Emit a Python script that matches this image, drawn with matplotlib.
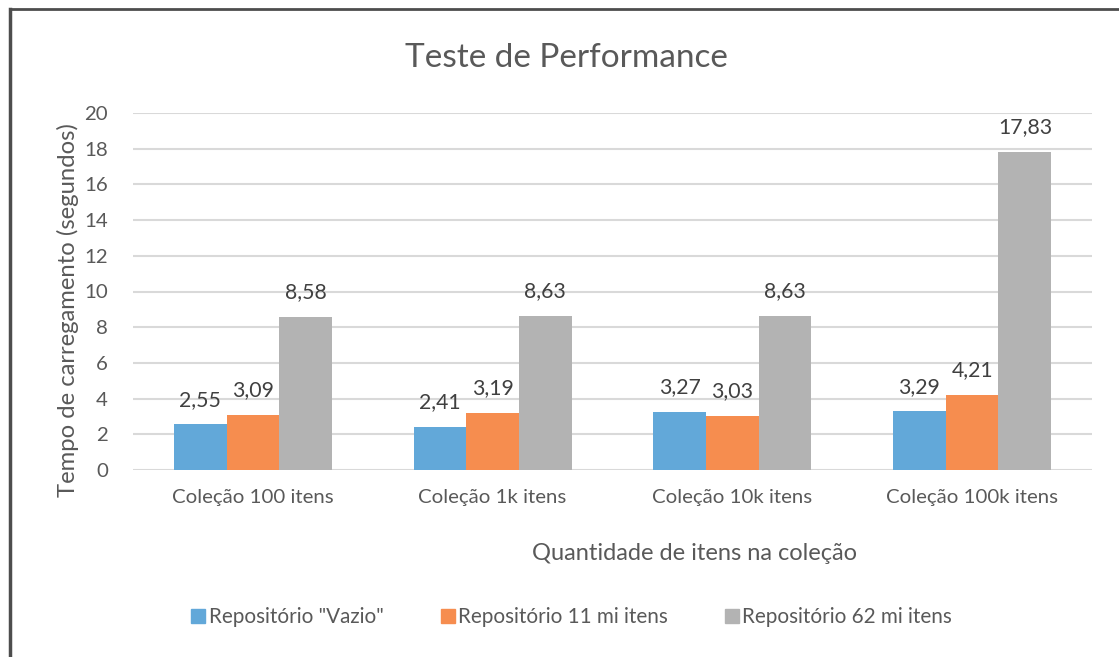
import matplotlib
matplotlib.use("Agg")
import matplotlib.pyplot as plt
import numpy as np
from matplotlib.lines import Line2D

# data
categorias = ["Coleção 100 itens", "Coleção 1k itens", "Coleção 10k itens", "Coleção 100k itens"]
series = ['Repositório "Vazio"', "Repositório 11 mi itens", "Repositório 62 mi itens"]
vazio = [2.55, 2.41, 3.27, 3.29]
mi11 = [3.09, 3.19, 3.03, 4.21]
mi62 = [8.58, 8.63, 8.63, 17.83]
yticks = [0, 2, 4, 6, 8, 10, 12, 14, 16, 18, 20]

cores = ["#62A8D9", "#F68D4F", "#B3B3B3"]
texto = "#595959"

plt.rcParams["font.family"] = ["Lato", "DejaVu Sans"]

W, H = 1119, 657
fig = plt.figure(figsize=(W / 100, H / 100), dpi=100)

# plot area in pixels
x0, x1, ytop, ybot = 133, 1092, 113, 470
ax = fig.add_axes([x0 / W, 1 - ybot / H, (x1 - x0) / W, (ybot - ytop) / H])

x = np.arange(len(categorias))
w = 0.22
for i, vals in enumerate([vazio, mi11, mi62]):
    pos = x + (i - 1) * w
    ax.bar(pos, vals, w, color=cores[i], zorder=3)
    for p, v in zip(pos, vals):
        ax.annotate(("%.2f" % v).replace(".", ","), (p, v), xytext=(0, 10.5),
                    textcoords="offset points", ha="center", va="bottom",
                    fontsize=15.3, color="#404040")

ax.set_xlim(-0.5, 3.5)
ax.set_ylim(0, 20)
ax.set_yticks(yticks)
ax.set_xticks(x)
ax.set_xticklabels(categorias)
ax.tick_params(axis="both", length=0, labelsize=14.7, colors=texto)
ax.tick_params(axis="y", pad=18)
ax.tick_params(axis="x", pad=14)
ax.grid(axis="y", color="#D9D9D9", lw=1.5, zorder=0)
for s in ax.spines.values():
    s.set_visible(False)

# titles
fig.text(566 / W, 1 - 58 / H, "Teste de Performance", ha="center", va="center",
         fontsize=24, color=texto)
fig.text(695 / W, 1 - 553 / H, "Quantidade de itens na coleção", ha="center",
         va="center", fontsize=17, color=texto)
fig.text(68 / W, 1 - 310 / H, "Tempo de carregamento (segundos)", ha="center",
         va="center", rotation=90, fontsize=17.2, color=texto)

# legend
handles = [Line2D([], [], marker="s", ls="", markersize=10.5, color=c) for c in cores]
fig.legend(handles, series, loc="center", bbox_to_anchor=(571 / W, 1 - 617 / H),
           ncol=3, frameon=False, fontsize=14.9, handletextpad=0.1,
           columnspacing=2.7, handlelength=0.8, labelcolor=texto)

# frame (top and left edges)
fig.add_artist(Line2D([10 / W, 1], [1 - 9 / H, 1 - 9 / H], color="#4D4D4D", lw=2))
fig.add_artist(Line2D([10 / W, 10 / W], [0, 1 - 9 / H], color="#4D4D4D", lw=2.5))

fig.savefig("out.png", dpi=100, facecolor="white")
